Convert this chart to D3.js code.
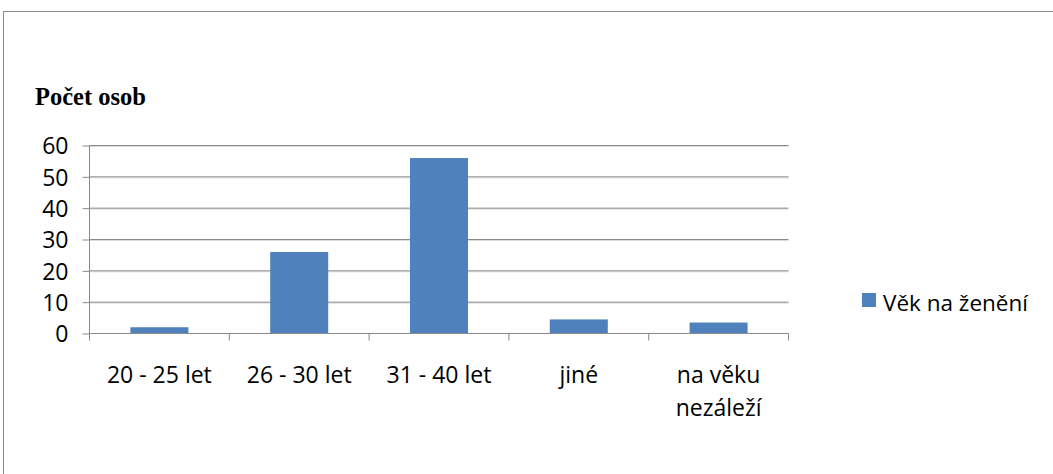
<!DOCTYPE html>
<html>
<head>
<meta charset="utf-8">
<script src="https://cdn.jsdelivr.net/npm/d3@7"></script>
<style>
  html, body { margin: 0; padding: 0; background: #fff; }
  svg { display: block; }
</style>
</head>
<body>
<svg id="chart" width="1053" height="474"></svg>
<script>
const categories = ["20 - 25 let", "26 - 30 let", "31 - 40 let", "jiné", "na věku nezáleží"];
const categoryLines = [["20 - 25 let"], ["26 - 30 let"], ["31 - 40 let"], ["jiné"], ["na věku", "nezáleží"]];
const values = [2, 26, 56, 4.5, 3.5];
const yTicks = [0, 10, 20, 30, 40, 50, 60];
const seriesName = "Věk na ženění";
const titleText = "Počet osob";

(function () {
const svg = d3.select("#chart");
const font = "'Open Sans', 'Noto Sans', sans-serif";
const gridColor = "#898989";
const barColor = "#4F81BD";

// outer frame
svg.append("rect").attr("x", 3.5).attr("y", 11.5).attr("width", 1100).attr("height", 500)
  .attr("fill", "none").attr("stroke", "#8c8c8c").attr("stroke-width", 1);

const pLeft = 89.5, pRight = 788.5, pTop = 145.5, pBottom = 333.5;

const y = d3.scaleLinear().domain([0, 60]).range([pBottom, pTop]);
const x = d3.scaleBand().domain(categories).range([pLeft, pRight]).paddingInner(0.585).paddingOuter(0.2925);

// gridlines
const grid = svg.append("g");
yTicks.filter(t => t > 0).forEach(t => {
  grid.append("line").attr("x1", pLeft).attr("x2", pRight).attr("y1", y(t) + 1).attr("y2", y(t) + 1)
    .attr("stroke", "#dcdcdc").attr("stroke-width", 1);
  grid.append("line").attr("x1", pLeft).attr("x2", pRight).attr("y1", y(t)).attr("y2", y(t))
    .attr("stroke", gridColor).attr("stroke-width", 1);
});

// bars
svg.append("g").selectAll("rect").data(values).join("rect")
  .attr("x", (d, i) => x(categories[i]))
  .attr("width", x.bandwidth())
  .attr("y", d => y(d))
  .attr("height", d => y(0) - y(d))
  .attr("fill", barColor);

// y axis
const yAxis = d3.axisLeft(y).tickValues(yTicks).tickSize(7).tickPadding(14).tickFormat(d3.format("d"));
const ya = svg.append("g").attr("transform", `translate(${pLeft},0)`).call(yAxis);
ya.select(".domain").attr("stroke", gridColor).attr("d", `M0,${pTop}V${pBottom}`);
ya.selectAll(".tick line").attr("stroke", gridColor);
ya.selectAll(".tick text").attr("font-family", font).attr("font-size", 23).attr("fill", "#000")
  .attr("dy", "0.36em");

// x axis
const xa = svg.append("g");
xa.append("line").attr("x1", pLeft).attr("x2", pRight).attr("y1", pBottom).attr("y2", pBottom).attr("stroke", gridColor);
const step = x.step();
const bounds = categories.map(c => x(c) - (step - x.bandwidth()) / 2).concat([pRight]);
bounds.forEach(b => {
  xa.append("line").attr("x1", b).attr("x2", b).attr("y1", pBottom).attr("y2", pBottom + 7).attr("stroke", gridColor);
});
categoryLines.forEach((lines, i) => {
  const cx = x(categories[i]) + x.bandwidth() / 2;
  lines.forEach((ln, j) => {
    xa.append("text").attr("x", cx).attr("y", 383 + j * 33).attr("text-anchor", "middle")
      .attr("font-family", font).attr("font-size", 23).attr("fill", "#000").text(ln);
  });
});

// title
svg.append("text").attr("x", 35).attr("y", 105).attr("font-family", "'Liberation Serif', 'Times New Roman', serif")
  .attr("font-weight", "bold").attr("font-size", 24.5).attr("fill", "#000").text(titleText);

// legend
svg.append("rect").attr("x", 862).attr("y", 293).attr("width", 14).attr("height", 14).attr("fill", barColor);
svg.append("text").attr("x", 883).attr("y", 310.5).attr("font-family", font).attr("font-size", 22.5)
  .attr("fill", "#000").text(seriesName);
})();
</script>
</body>
</html>
